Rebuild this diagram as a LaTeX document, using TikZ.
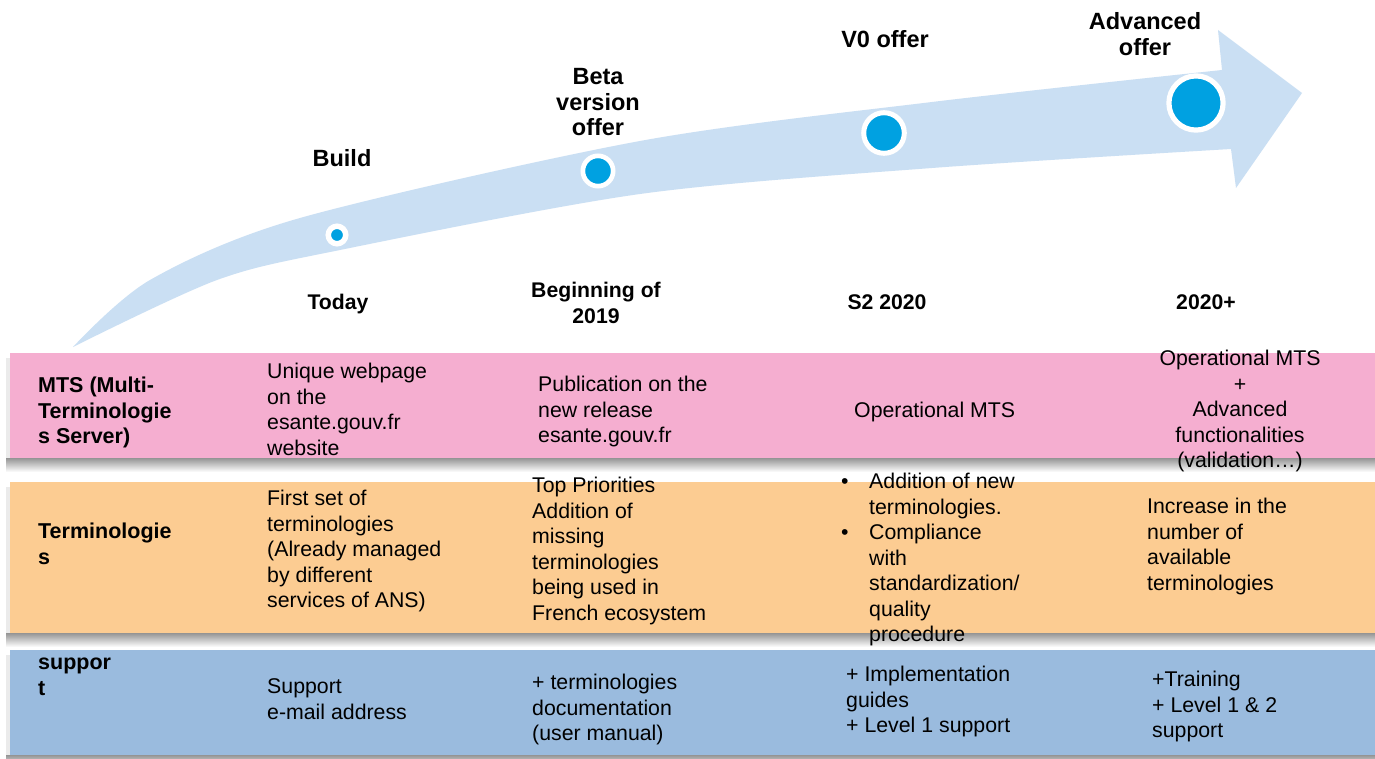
\documentclass[tikz,border=0pt]{standalone}
\usepackage{fontspec}
\setmainfont{Liberation Sans}
\definecolor{pinkband}{RGB}{245,174,208}
\definecolor{orangeband}{RGB}{252,204,146}
\definecolor{blueband}{RGB}{154,187,222}
\definecolor{arrowblue}{RGB}{202,223,243}
\definecolor{dotblue}{RGB}{0,161,225}
\newcommand\lnstrut{\rule{0pt}{19pt}}
\newcommand\hdstrut{\rule{0pt}{21pt}}
\begin{document}
\begin{tikzpicture}[x=1pt,y=-1pt,
  body/.style={font=\fontsize{21.3}{25.5}\selectfont, inner sep=0pt, align=left, anchor=north west},
  bodyc/.style={body, align=center, anchor=north},
  lbl/.style={body, font=\fontsize{21.5}{25.5}\selectfont\bfseries},
  datec/.style={bodyc, font=\fontsize{21.2}{25.5}\selectfont\bfseries},
  head/.style={font=\fontsize{23.5}{25.5}\selectfont\bfseries, inner sep=0pt, align=center, anchor=north},
  dot/.style={circle, fill=dotblue, draw=white, inner sep=0pt},
  bandshadow/.style={top color=black!45, bottom color=white, draw=none}]
\useasboundingbox (0,0) rectangle (1375,759);
\fill[white] (0,0) rectangle (1375,759);

% ---------- bands with shadows ----------
\shade[bandshadow] (6,457) rectangle (1375,472);
\fill[black!8] (6,358) rectangle (10,458);
\fill[pinkband] (10,353) rectangle (1375,458);

\shade[bandshadow] (6,632) rectangle (1375,647);
\fill[black!8] (6,487) rectangle (10,633);
\fill[orangeband] (10,482) rectangle (1375,633);

\shade[bandshadow] (6,754) rectangle (1375,768);
\fill[black!8] (6,655) rectangle (10,755);
\fill[blueband] (10,650) rectangle (1375,755);

% ---------- curved arrow ----------
\fill[arrowblue] plot[smooth] coordinates {(73,347) (150,280) (300,218) (640,141) (932,102) (1222,70)}
  -- (1218,30) -- (1302,93) -- (1236,188) -- (1231,149)
  -- plot[smooth] coordinates {(1231,149) (932,168) (640,194) (340,250) (217,280) (73,347)} -- cycle;

% ---------- milestones ----------
\node[dot, minimum size=17.5pt, line width=5.5pt] (m1) at (337,235) {};
\node[dot, minimum size=30.3pt, line width=4.7pt] (m2) at (598,171) {};
\node[dot, minimum size=40.6pt, line width=5pt] (m3) at (884,133) {};
\node[dot, minimum size=54.2pt, line width=5.2pt] (m4) at (1196,103) {};

% ---------- headers ----------
\node[head] (hbuild) at (342,145.4) {\hdstrut Build};
\node[head] (hbeta) at (598,63.4) {\hdstrut Beta\\version\\offer};
\node[head] (hv0) at (885,26.4) {\hdstrut V0 offer};
\node[head, font=\fontsize{23.5}{26}\selectfont\bfseries] (hadv) at (1145,8.4) {\hdstrut Advanced\\offer};

% ---------- dates ----------
\node[datec] (dtoday) at (338,290.5) {\lnstrut Today};
\node[datec] (d2019) at (596,278.5) {\lnstrut Beginning of\\2019};
\node[datec] (ds2) at (887,290.5) {\lnstrut S2 2020};
\node[datec] (dplus) at (1206,290.5) {\lnstrut 2020+};

% ---------- row labels ----------
\node[lbl] (lmts) at (38,373.5) {\lnstrut MTS (Multi-\\Terminologie\\s Server)};
\node[lbl] (lterm) at (38,519.5) {\lnstrut Terminologie\\s};
\node[lbl] (lsup) at (38,650.5) {\lnstrut suppor\\t};

% ---------- column 1 ----------
\node[body] (a1) at (267,359.5) {\lnstrut Unique webpage\\on the\\esante.gouv.fr\\website};
\node[body] (b1) at (267,486.5) {\lnstrut First set of\\terminologies\\(Already managed\\by different\\services of ANS)};
\node[body] (c1) at (267,674.5) {\lnstrut Support\\e-mail address};

% ---------- column 2 ----------
\node[body] (a2) at (538,372.5) {\lnstrut Publication on the\\new release\\esante.gouv.fr};
\node[body] (b2) at (532,473.5) {\lnstrut Top Priorities\\Addition of\\missing\\terminologies\\being used in\\French ecosystem};
\node[body] (c2) at (532,670.5) {\lnstrut + terminologies\\documentation\\(user manual)};

% ---------- column 3 ----------
\node[body] (a3) at (854,398.5) {\lnstrut Operational MTS};
\node[body] (b3) at (841,469.5) {\lnstrut\makebox[28pt][l]{•}Addition of new\\\hspace*{28pt}terminologies.\\\makebox[28pt][l]{•}Compliance\\\hspace*{28pt}with\\\hspace*{28pt}standardization/\\\hspace*{28pt}quality\\\hspace*{28pt}procedure};
\node[body] (c3) at (846,662.5) {\lnstrut + Implementation\\guides\\+ Level 1 support};

% ---------- column 4 ----------
\node[bodyc] (a4) at (1240,346.5) {\lnstrut Operational MTS\\+\\Advanced\\functionalities\\(validation…)};
\node[body] (b4) at (1147,494.5) {\lnstrut Increase in the\\number of\\available\\terminologies};
\node[body] (c4) at (1152,667.5) {\lnstrut +Training\\+ Level 1 \& 2\\support};
\end{tikzpicture}
\end{document}
